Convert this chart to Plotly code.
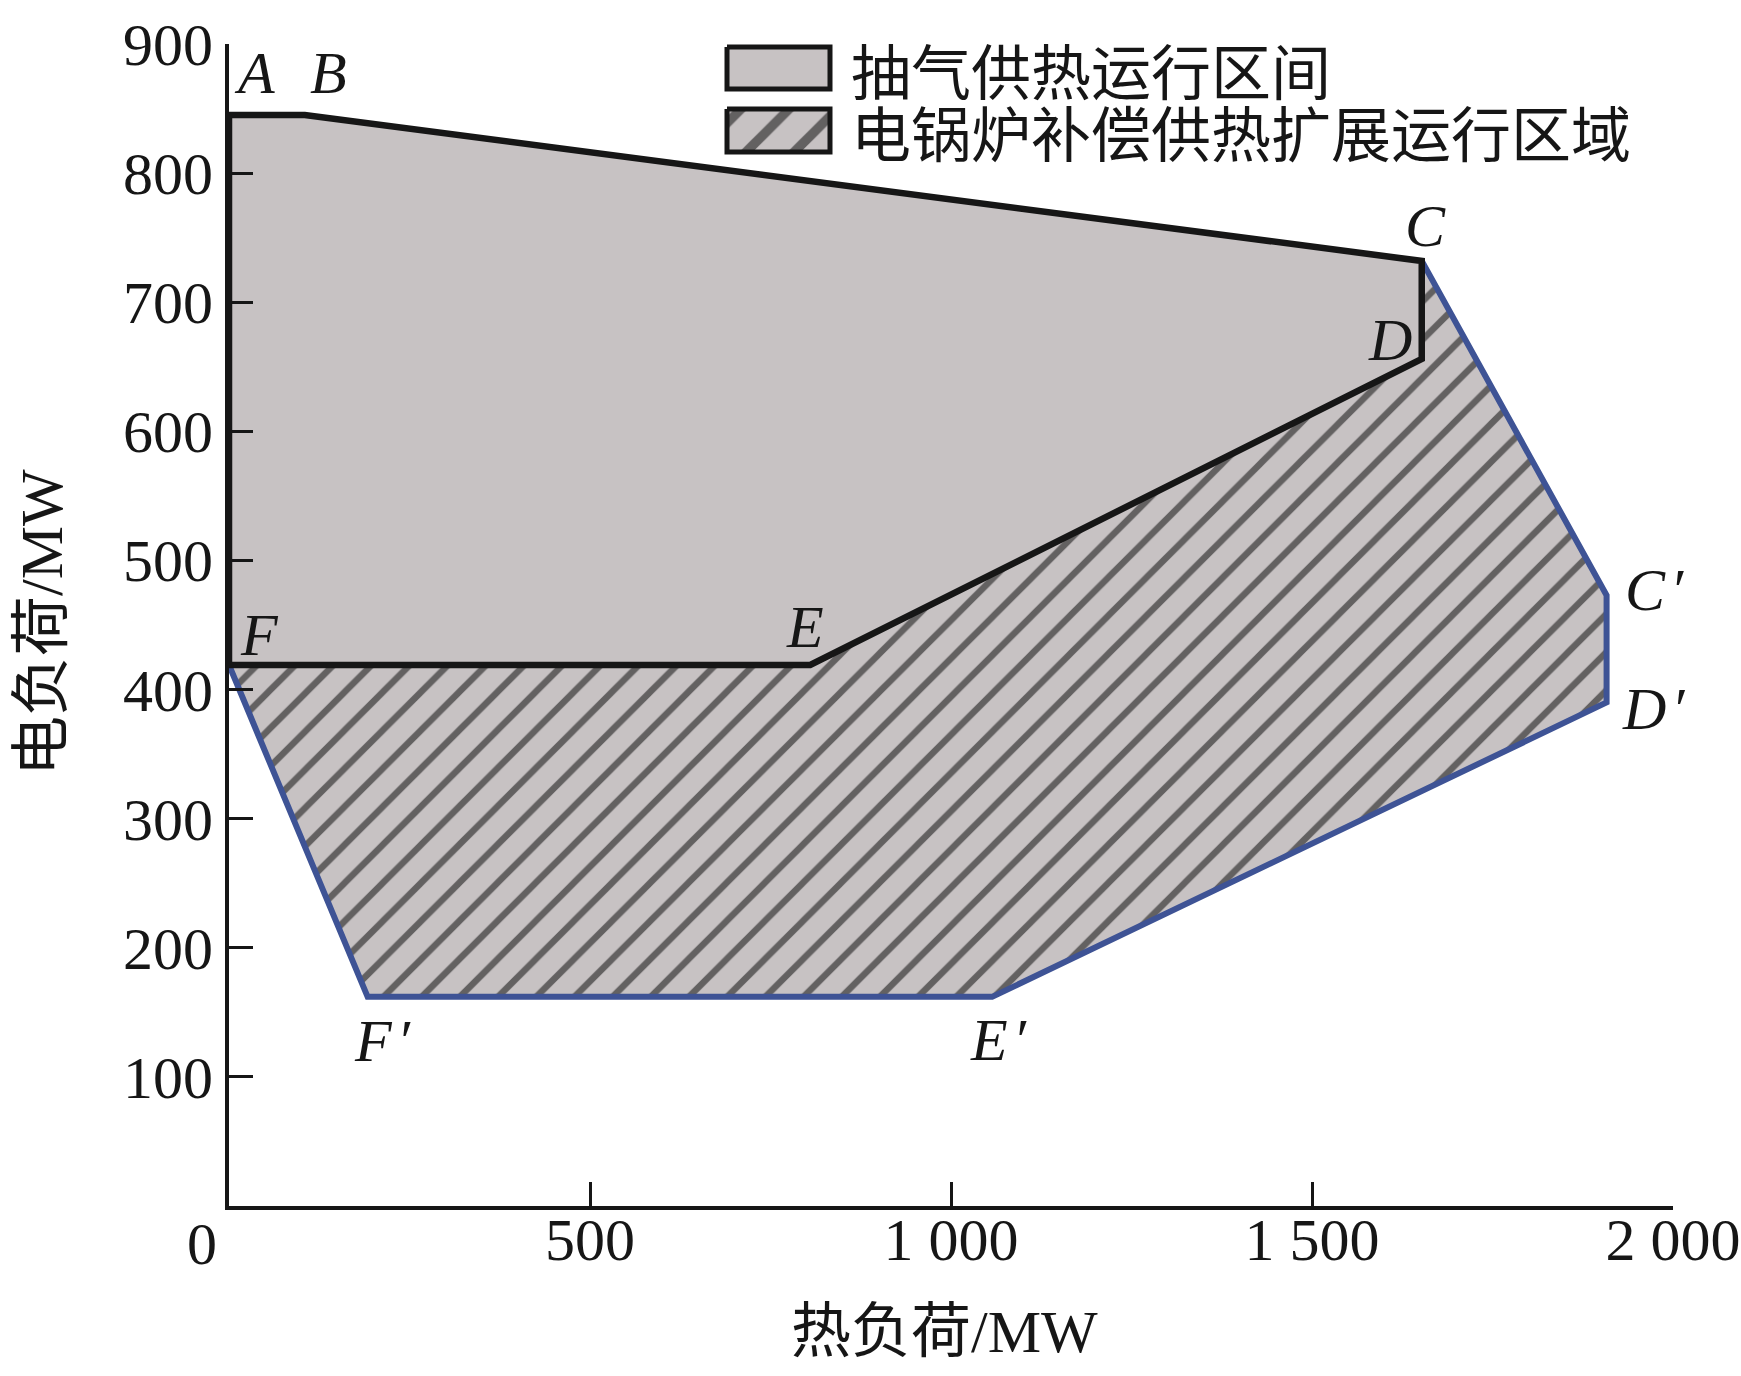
import plotly.graph_objects as go

# ---- data ----
point_names = ["A", "B", "C", "D", "E", "F", "C\u2032", "D\u2032", "E\u2032", "F\u2032"]
heat_load = [0, 105, 1652, 1652, 805, 0, 1908, 1908, 1057, 192]      # MW
power_load = [845, 845, 732, 656, 419, 419, 473, 390, 162, 162]       # MW

x_tick_vals = [500, 1000, 1500, 2000]
x_tick_text = ["500", "1 000", "1 500", "2 000"]
y_tick_vals = [100, 200, 300, 400, 500, 600, 700, 800, 900]
y_tick_text = ["100", "200", "300", "400", "500", "600", "700", "800", "900"]

legend_names = ["抽气供热运行区间", "电锅炉补偿供热扩展运行区域"]
x_title = "热负荷/MW"
y_title = "电负荷/MW"

P = dict(zip(point_names, zip(heat_load, power_load)))

# ---- styles ----
GRAY = "#C7C2C3"
BLACK = "#161616"
BLUE = "#3E5395"
FONT = "Liberation Serif, Noto Sans CJK SC"
W, H = 1741, 1376
# plot area in page pixels
PL, PT, PR, PB = 229, 44, 1673, 1206
PW, PH = PR - PL, PB - PT
ML, MT = PL, PT
MR, MB = W - ML - PW, H - MT - PH

def xs(names):
    return [P[n][0] for n in names]

def ys(names):
    return [P[n][1] for n in names]

fig = go.Figure()

# extended (hatched) region
ext = ["F", "E", "D", "C", "C\u2032", "D\u2032", "E\u2032", "F\u2032", "F"]
fig.add_trace(go.Scatter(
    x=xs(ext), y=ys(ext), mode="lines", fill="toself",
    fillcolor=GRAY, line=dict(width=0, color=GRAY),
    fillpattern=dict(shape="/", fgcolor="#000000", bgcolor=GRAY, size=27, solidity=0.24),
    hoverinfo="skip", showlegend=False))

# blue outer border
blue_path = ["F", "F\u2032", "E\u2032", "D\u2032", "C\u2032", "C"]
fig.add_trace(go.Scatter(
    x=xs(blue_path), y=ys(blue_path), mode="lines",
    line=dict(color=BLUE, width=6), hoverinfo="skip", showlegend=False))

# extraction heating region
base = ["A", "B", "C", "D", "E", "F", "A"]
fig.add_trace(go.Scatter(
    x=xs(base), y=ys(base), mode="lines", fill="toself",
    fillcolor=GRAY, line=dict(color=BLACK, width=6.5, shape="linear"),
    hoverinfo="skip", showlegend=False))

# ---- manual legend on a pixel overlay axis ----
box_x0, box_x1 = 727 - PL, 830 - PL
box_rows = [(47 - PT, 89 - PT), (109 - PT, 152 - PT)]
for i, (y0, y1) in enumerate(box_rows):
    kw = dict(
        x=[box_x0, box_x1, box_x1, box_x0, box_x0],
        y=[y0, y0, y1, y1, y0],
        xaxis="x2", yaxis="y2", mode="lines", fill="toself",
        fillcolor=GRAY, line=dict(color=BLACK, width=5),
        hoverinfo="skip", showlegend=False)
    if i == 1:
        kw["fillpattern"] = dict(shape="/", fgcolor="#000000", bgcolor=GRAY, size=34, solidity=0.28)
    fig.add_trace(go.Scatter(**kw))
    fig.add_annotation(
        x=849 - PL, y=(y0 + y1) / 2, xref="x2", yref="y2",
        text=legend_names[i], showarrow=False, xanchor="left", yanchor="middle",
        font=dict(family="Noto Sans CJK SC", size=60, color=BLACK))

# ---- point labels ----
label_shift = {
    "A": (3, 42), "B": (3, 42), "C": (-19, 35), "D": (-56, 19),
    "E": (-26, 38), "F": (9, 30), "C\u2032": (16, 5), "D\u2032": (13, -7),
    "E\u2032": (-24, -43), "F\u2032": (-16, -44),
}
for n in point_names:
    dx, dy = label_shift[n]
    txt = n.replace("\u2032", "\u200a\u2032")
    fig.add_annotation(
        x=P[n][0], y=P[n][1], xref="x", yref="y", text="<i>%s</i>" % txt,
        showarrow=False, xanchor="left", yanchor="middle", xshift=dx, yshift=dy,
        font=dict(family="Liberation Serif", size=60, color=BLACK))

# "0" tick label at origin
fig.add_annotation(x=0, y=0, xref="x", yref="y", text="0", showarrow=False,
                   xanchor="center", yanchor="middle", xshift=-27, yshift=-38,
                   font=dict(family="Liberation Serif", size=60, color=BLACK))

# axis titles
fig.add_annotation(x=(944 - PL) / PW, y=(PB - 1332) / PH, xref="paper", yref="paper",
                   text=x_title, showarrow=False, xanchor="center", yanchor="middle",
                   font=dict(family=FONT, size=60, color=BLACK))
fig.add_annotation(x=(42 - PL) / PW, y=(PB - 622) / PH, xref="paper", yref="paper",
                   text=y_title, showarrow=False, xanchor="center", yanchor="middle",
                   textangle=-90, font=dict(family=FONT, size=60, color=BLACK))

fig.update_layout(
    width=W, height=H,
    margin=dict(l=ML, r=MR, t=MT, b=MB, pad=0, autoexpand=False),
    paper_bgcolor="white", plot_bgcolor="white",
    showlegend=False,
    font=dict(family=FONT, size=60, color=BLACK),
    xaxis=dict(range=[0, 2000], showgrid=False, zeroline=False, automargin=False,
               showline=True, linecolor=BLACK, linewidth=4,
               ticks="inside", ticklen=24, tickwidth=3, tickcolor=BLACK,
               tickvals=x_tick_vals, ticktext=x_tick_text,
               tickfont=dict(family="Liberation Serif", size=60, color=BLACK),
               ticklabelstandoff=-22, layer="above traces"),
    yaxis=dict(range=[0, 900], showgrid=False, zeroline=False, automargin=False,
               showline=True, linecolor=BLACK, linewidth=4,
               ticks="inside", ticklen=24, tickwidth=3, tickcolor=BLACK,
               tickvals=y_tick_vals, ticktext=y_tick_text,
               tickfont=dict(family="Liberation Serif", size=60, color=BLACK),
               ticklabelstandoff=0, layer="above traces"),
    xaxis2=dict(range=[0, PW], overlaying="x", visible=False, fixedrange=True, automargin=False),
    yaxis2=dict(range=[PH, 0], overlaying="y", visible=False, fixedrange=True, automargin=False),
)

fig.write_html("out.html", config={"displayModeBar": False},
               post_script="document.body.style.margin='0';document.body.style.overflow='hidden';")
